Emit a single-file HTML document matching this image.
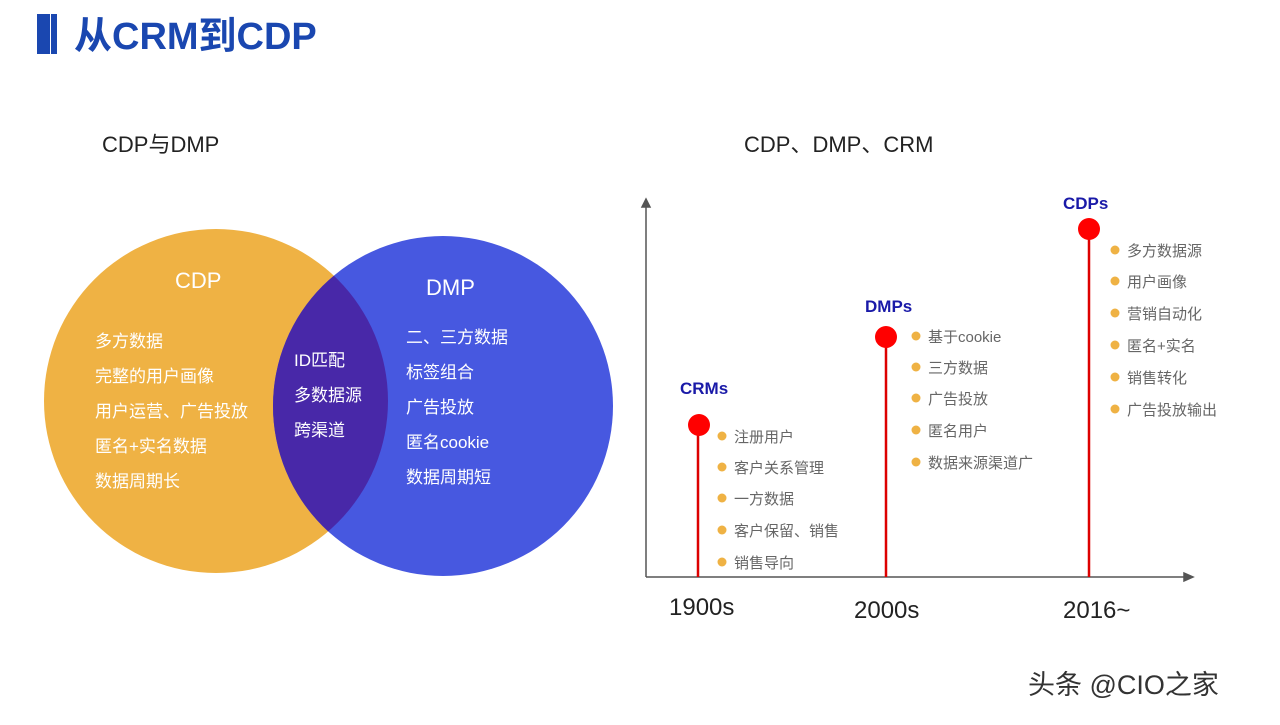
<!DOCTYPE html>
<html><head><meta charset="utf-8"><style>
body{margin:0;width:1280px;height:720px;background:#fff;overflow:hidden}
svg text{font-family:"Liberation Sans","Noto Sans CJK SC",sans-serif}
</style></head><body>
<svg width="1280" height="720" viewBox="0 0 1280 720">
<rect x="37" y="14" width="13" height="40" fill="#1a47b0"/><rect x="51" y="14" width="6" height="40" fill="#1a47b0"/>
<text x="74" y="49" font-size="38" font-weight="bold" fill="#1a47b0">从CRM到CDP</text>
<text x="102" y="152" font-size="22" fill="#222">CDP与DMP</text>
<text x="744" y="152" font-size="22" fill="#222">CDP、DMP、CRM</text>
<defs><clipPath id="c"><circle cx="216" cy="401" r="172"/></clipPath></defs>
<circle cx="216" cy="401" r="172" fill="#EFB244"/>
<circle cx="443" cy="406" r="170" fill="#4758E0"/>
<circle cx="443" cy="406" r="170" fill="#4828A8" clip-path="url(#c)"/>
<g fill="#fff" font-size="17">
<text x="175" y="288" font-size="22">CDP</text>
<text x="95" y="347">多方数据</text><text x="95" y="382">完整的用户画像</text><text x="95" y="417">用户运营、广告投放</text><text x="95" y="452">匿名+实名数据</text><text x="95" y="487">数据周期长</text>
<text x="294" y="366">ID匹配</text><text x="294" y="401">多数据源</text><text x="294" y="436">跨渠道</text>
<text x="426" y="295" font-size="22">DMP</text>
<text x="406" y="343">二、三方数据</text><text x="406" y="378">标签组合</text><text x="406" y="413">广告投放</text><text x="406" y="448">匿名cookie</text><text x="406" y="483">数据周期短</text>
</g>
<g stroke="#555" stroke-width="1.5" fill="#555">
<line x1="646" y1="577" x2="646" y2="205"/><polygon points="642,207 650,207 646,199"/>
<line x1="646" y1="577" x2="1186" y2="577"/><polygon points="1184,573 1184,581 1193,577"/>
</g>
<g stroke="#d00" stroke-width="2.5"><line x1="698" y1="425" x2="698" y2="577"/><line x1="886" y1="337" x2="886" y2="577"/><line x1="1089" y1="229" x2="1089" y2="577"/></g>
<g fill="#f00"><circle cx="699" cy="425" r="11"/><circle cx="886" cy="337" r="11"/><circle cx="1089" cy="229" r="11"/></g>
<g fill="#1a1aa8" font-weight="bold" font-size="17"><text x="680" y="394">CRMs</text><text x="865" y="312">DMPs</text><text x="1063" y="209">CDPs</text></g>
<g font-size="24" fill="#222"><text x="669" y="615">1900s</text><text x="854" y="618">2000s</text><text x="1063" y="618">2016~</text></g>
<g fill="#EFB244">
<circle cx="722" cy="436" r="4.5"/><circle cx="722" cy="467" r="4.5"/><circle cx="722" cy="498" r="4.5"/><circle cx="722" cy="530" r="4.5"/><circle cx="722" cy="562" r="4.5"/>
<circle cx="916" cy="336" r="4.5"/><circle cx="916" cy="367" r="4.5"/><circle cx="916" cy="398" r="4.5"/><circle cx="916" cy="430" r="4.5"/><circle cx="916" cy="462" r="4.5"/>
<circle cx="1115" cy="250" r="4.5"/><circle cx="1115" cy="281" r="4.5"/><circle cx="1115" cy="313" r="4.5"/><circle cx="1115" cy="345" r="4.5"/><circle cx="1115" cy="377" r="4.5"/><circle cx="1115" cy="409" r="4.5"/>
</g>
<g fill="#666" font-size="15">
<text x="734" y="442">注册用户</text><text x="734" y="473">客户关系管理</text><text x="734" y="504">一方数据</text><text x="734" y="536">客户保留、销售</text><text x="734" y="568">销售导向</text>
<text x="928" y="342">基于cookie</text><text x="928" y="373">三方数据</text><text x="928" y="404">广告投放</text><text x="928" y="436">匿名用户</text><text x="928" y="468">数据来源渠道广</text>
<text x="1127" y="256">多方数据源</text><text x="1127" y="287">用户画像</text><text x="1127" y="319">营销自动化</text><text x="1127" y="351">匿名+实名</text><text x="1127" y="383">销售转化</text><text x="1127" y="415">广告投放输出</text>
</g>
<text x="1028" y="694" font-size="27" fill="#333">头条 @CIO之家</text>
</svg>
</body></html>
